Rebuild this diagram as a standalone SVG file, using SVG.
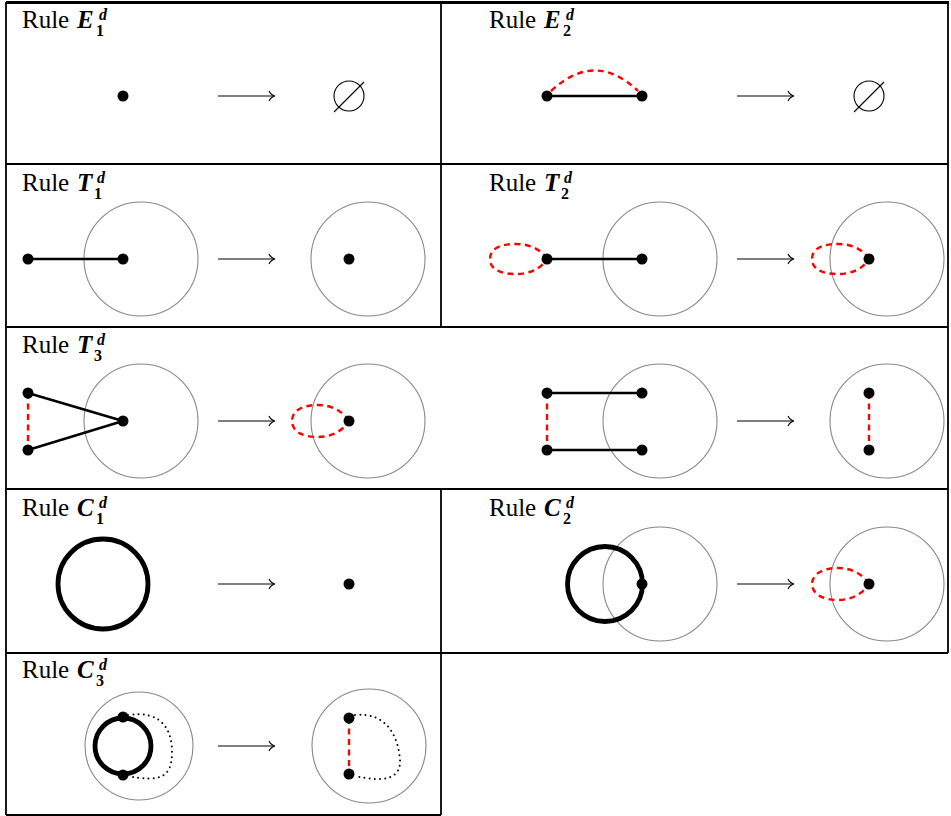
<svg xmlns="http://www.w3.org/2000/svg" width="951" height="816" viewBox="0 0 951 816">
<defs>
<style>
.grid{stroke:#000;stroke-width:1.8;fill:none}
.ring{stroke:#888;stroke-width:1.1;fill:none}
.dot{fill:#000}
.edge{stroke:#000;stroke-width:2.4;fill:none}
.red{stroke:#f00;stroke-width:2.4;fill:none;stroke-dasharray:6 4.5}
.thick{stroke:#000;stroke-width:4.8;fill:none}
.dotted{stroke:#000;stroke-width:2;fill:none;stroke-dasharray:0 5.2;stroke-linecap:round}
.arr{stroke:#000;stroke-width:1.1;fill:none}
.m{font-size:25px;font-weight:bold;font-style:italic}
.sb{font-size:16px;font-weight:bold}
.sp{font-size:16px;font-weight:bold;font-style:italic}
</style>
<g id="arrow"><line x1="218" y1="0" x2="274" y2="0"/><path d="M269,-5 Q271,-1 275,0 Q271,1 269,5"/></g>
<g id="empty"><circle cx="0" cy="0" r="15"/><line x1="-15" y1="16" x2="15" y2="-14"/></g>
</defs>
<rect width="951" height="816" fill="#fff"/>
<g id="table">
<line class="grid" x1="6" y1="2.5" x2="949" y2="2.5" style="stroke-width:3"/>
<line class="grid" x1="6" y1="2" x2="6" y2="815"/>
<line class="grid" x1="948" y1="2" x2="948" y2="653"/>
<line class="grid" x1="441" y1="2" x2="441" y2="327"/>
<line class="grid" x1="441" y1="489" x2="441" y2="815"/>
<line class="grid" x1="6" y1="164" x2="948" y2="164"/>
<line class="grid" x1="6" y1="327" x2="948" y2="327"/>
<line class="grid" x1="6" y1="489" x2="948" y2="489"/>
<line class="grid" x1="6" y1="653" x2="948" y2="653"/>
<line class="grid" x1="6" y1="815" x2="441" y2="815"/>
</g>
<g id="titles" font-family="'Liberation Serif', 'Times New Roman', 'DejaVu Serif', serif" font-size="25" fill="#000">
<text x="22" y="28">Rule<tspan class="m" x="77">E</tspan><tspan class="sb" x="96" y="36">1</tspan><tspan class="sp" x="99" y="20">d</tspan></text>
<text x="489" y="28">Rule<tspan class="m" x="544">E</tspan><tspan class="sb" x="563" y="36">2</tspan><tspan class="sp" x="566" y="20">d</tspan></text>
<text x="22" y="191">Rule<tspan class="m" x="77">T</tspan><tspan class="sb" x="94" y="199">1</tspan><tspan class="sp" x="97" y="183">d</tspan></text>
<text x="489" y="191">Rule<tspan class="m" x="544">T</tspan><tspan class="sb" x="561" y="199">2</tspan><tspan class="sp" x="564" y="183">d</tspan></text>
<text x="22" y="353">Rule<tspan class="m" x="77">T</tspan><tspan class="sb" x="94" y="361">3</tspan><tspan class="sp" x="97" y="345">d</tspan></text>
<text x="22" y="516">Rule<tspan class="m" x="77">C</tspan><tspan class="sb" x="96" y="524">1</tspan><tspan class="sp" x="99" y="508">d</tspan></text>
<text x="489" y="516">Rule<tspan class="m" x="544">C</tspan><tspan class="sb" x="563" y="524">2</tspan><tspan class="sp" x="566" y="508">d</tspan></text>
<text x="22" y="678">Rule<tspan class="m" x="77">C</tspan><tspan class="sb" x="96" y="686">3</tspan><tspan class="sp" x="99" y="670">d</tspan></text>
</g>
<g id="arrows" class="arr">
<use href="#arrow" y="96"/><use href="#arrow" x="519" y="96"/>
<use href="#arrow" y="259"/><use href="#arrow" x="519" y="259"/>
<use href="#arrow" y="421"/><use href="#arrow" x="519" y="421"/>
<use href="#arrow" y="584"/><use href="#arrow" x="519" y="584"/>
<use href="#arrow" y="746"/>
</g>
<g id="rings" class="ring">
<circle cx="141" cy="259" r="57"/><circle cx="368" cy="259" r="57"/><circle cx="660" cy="259" r="57"/><circle cx="887" cy="259" r="57"/>
<circle cx="141" cy="421" r="57"/><circle cx="368" cy="421" r="57"/><circle cx="660" cy="421" r="57"/><circle cx="887" cy="421" r="57"/>
<circle cx="660" cy="584" r="57"/><circle cx="887" cy="584" r="57"/>
<circle cx="139" cy="746" r="54"/><circle cx="369" cy="746" r="57"/>
</g>
<g id="connectors">
<line class="edge" x1="547" y1="96" x2="642" y2="96"/>
<path class="red" d="M551,91 Q595,50 638,91"/>
<line class="edge" x1="28" y1="259" x2="123" y2="259"/>
<line class="edge" x1="547" y1="259" x2="642" y2="259"/>
<path class="red" d="M547,259 C540,248 528,244 516,244 C498,244 490,250 490,259 C490,268 498,274 516,274 C528,274 540,270 547,259"/>
<path class="red" d="M869,259 C862,248 850,244 838,244 C820,244 812,250 812,259 C812,268 820,274 838,274 C850,274 862,270 869,259"/>
<line class="edge" x1="28" y1="393" x2="123" y2="421"/>
<line class="edge" x1="28" y1="450" x2="123" y2="421"/>
<line class="red" x1="28" y1="393" x2="28" y2="450"/>
<path class="red" d="M349,421 C342,410 330,405 318,405 C300,405 292,412 292,421 C292,430 300,437 318,437 C330,437 342,432 349,421"/>
<line class="edge" x1="547" y1="393" x2="642" y2="393"/>
<line class="edge" x1="547" y1="450" x2="642" y2="450"/>
<line class="red" x1="547" y1="393" x2="547" y2="450"/>
<line class="red" x1="869" y1="393" x2="869" y2="450"/>
<circle class="thick" cx="103" cy="584" r="45"/>
<circle class="thick" cx="605" cy="584" r="37.5"/>
<path class="red" d="M869,584 C862,573 850,568 838,568 C820,568 812,576 812,584 C812,592 820,600 838,600 C850,600 862,595 869,584"/>
<circle class="thick" cx="123" cy="746" r="28"/>
<path class="dotted" d="M128,715 C162,710 172,730 172,752 C172,778 160,782 128,776"/>
<line class="red" x1="349" y1="718" x2="349" y2="774"/>
<path class="dotted" d="M355,715 C386,712 398,735 400,760 C401,780 382,782 355,776"/>
</g>
<g id="empties" class="arr">
<use href="#empty" x="349" y="96"/><use href="#empty" x="869" y="96"/>
</g>
<g id="nodes" class="dot">
<circle cx="123" cy="96" r="5.5"/>
<circle cx="547" cy="96" r="5.5"/><circle cx="642" cy="96" r="5.5"/>
<circle cx="28" cy="259" r="5.5"/><circle cx="123" cy="259" r="5.5"/><circle cx="349" cy="259" r="5.5"/>
<circle cx="547" cy="259" r="5.5"/><circle cx="642" cy="259" r="5.5"/><circle cx="869" cy="259" r="5.5"/>
<circle cx="28" cy="393" r="5.5"/><circle cx="28" cy="450" r="5.5"/><circle cx="123" cy="421" r="5.5"/><circle cx="349" cy="421" r="5.5"/>
<circle cx="547" cy="393" r="5.5"/><circle cx="547" cy="450" r="5.5"/><circle cx="642" cy="393" r="5.5"/><circle cx="642" cy="450" r="5.5"/>
<circle cx="869" cy="393" r="5.5"/><circle cx="869" cy="450" r="5.5"/>
<circle cx="349" cy="584" r="5.5"/><circle cx="642" cy="584" r="5.5"/><circle cx="869" cy="584" r="5.5"/>
<circle cx="123" cy="717" r="5.5"/><circle cx="123" cy="775" r="5.5"/>
<circle cx="349" cy="718" r="5.5"/><circle cx="349" cy="774" r="5.5"/>
</g>
</svg>
